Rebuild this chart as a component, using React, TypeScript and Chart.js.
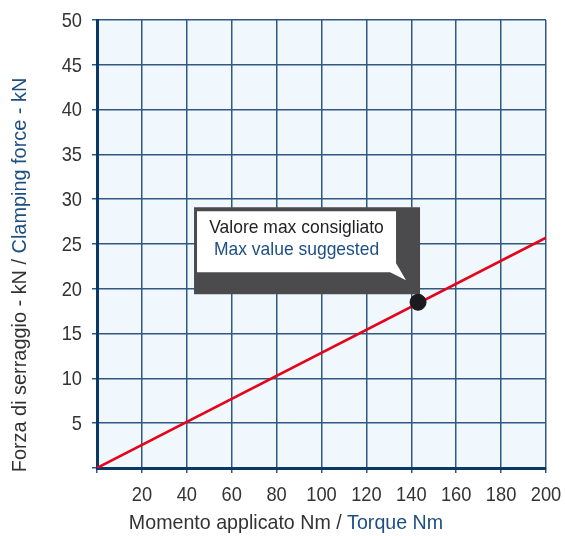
import React, { useEffect, useRef } from "react";
import { Chart, registerables } from "chart.js";

Chart.register(...registerables);

// ---- data ----
const torqueLine: number[] = [0, 200];
const forceLine: number[] = [0, 25.7];
const maxTorque: number[] = [143];
const maxForce: number[] = [18.5];
const xTicks: number[] = [0, 20, 40, 60, 80, 100, 120, 140, 160, 180, 200];
const yTicks: number[] = [0, 5, 10, 15, 20, 25, 30, 35, 40, 45, 50];
const calloutLines: string[] = ["Valore max consigliato", "Max value suggested"];
const xTitle: string[] = ["Momento applicato Nm / ", "Torque Nm"];
const yTitle: string[] = ["Forza di serraggio - kN / ", "Clamping force - kN"];

const FONT = '"Liberation Sans", Arial, sans-serif';
const GREY_TEXT = "#333333";
const BLUE_TEXT = "#1d4f82";
const GRID = "#2f5882";
const AXIS = "#0b3867";

// draw horizontally-condensed text
function narrowText(ctx: CanvasRenderingContext2D, text: string, x: number, y: number, sx: number, align: CanvasTextAlign) {
  ctx.save();
  ctx.translate(x, y);
  ctx.scale(sx, 1);
  ctx.textAlign = align;
  ctx.fillText(text, 0, 0);
  ctx.restore();
}

const bgPlugin = {
  id: "bg",
  beforeDraw(chart: any) {
    const { ctx, chartArea } = chart;
    ctx.save();
    ctx.fillStyle = "#f1f8fd";
    ctx.fillRect(chartArea.left, chartArea.top, chartArea.right - chartArea.left, chartArea.bottom - chartArea.top);
    ctx.restore();
  },
};

const calloutPlugin = {
  id: "callout",
  beforeDatasetsDraw(chart: any) {
    const { ctx } = chart;
    const xs = chart.scales.x;
    const ys = chart.scales.y;
    const px = xs.getPixelForValue(maxTorque[0]);
    const py = ys.getPixelForValue(maxForce[0]);
    ctx.save();
    const gx0 = px - 224;
    const gx1 = px + 2;
    const gy0 = py - 95;
    const gy1 = py - 8;
    ctx.fillStyle = "#4b4b4e";
    ctx.fillRect(gx0, gy0, gx1 - gx0, gy1 - gy0);
    const wx0 = gx0 + 3;
    const wx1 = px - 22;
    const wy0 = gy0 + 4;
    const wy1 = py - 30;
    ctx.fillStyle = "#ffffff";
    ctx.beginPath();
    ctx.moveTo(wx0, wy0);
    ctx.lineTo(wx1, wy0);
    ctx.lineTo(wx1, wy1 - 9);
    ctx.lineTo(px - 12, py - 22);
    ctx.lineTo(wx1 - 6, wy1);
    ctx.lineTo(wx0, wy1);
    ctx.closePath();
    ctx.fill();
    const cx = (wx0 + wx1) / 2;
    ctx.textBaseline = "middle";
    ctx.font = `19px ${FONT}`;
    ctx.fillStyle = "#222222";
    narrowText(ctx, calloutLines[0], cx, wy0 + 17, 0.92, "center");
    ctx.fillStyle = BLUE_TEXT;
    narrowText(ctx, calloutLines[1], cx, wy0 + 39, 0.92, "center");
    ctx.restore();
  },
};

function drawTwoTone(ctx: CanvasRenderingContext2D, parts: string[], cx: number, cy: number, sx: number) {
  ctx.save();
  ctx.translate(cx, cy);
  ctx.scale(sx, 1);
  const w0 = ctx.measureText(parts[0]).width;
  const w1 = ctx.measureText(parts[1]).width;
  const start = -(w0 + w1) / 2;
  ctx.textAlign = "left";
  ctx.textBaseline = "middle";
  ctx.fillStyle = GREY_TEXT;
  ctx.fillText(parts[0], start, 0);
  ctx.fillStyle = BLUE_TEXT;
  ctx.fillText(parts[1], start + w0, 0);
  ctx.restore();
}

const labelsPlugin = {
  id: "labels",
  afterDraw(chart: any) {
    const { ctx } = chart;
    const xs = chart.scales.x;
    const ys = chart.scales.y;
    const area = chart.chartArea;
    ctx.save();
    ctx.font = `21px ${FONT}`;
    ctx.fillStyle = GREY_TEXT;
    ctx.textBaseline = "middle";
    xTicks.forEach((v) => {
      if (v === 0) return;
      narrowText(ctx, String(v), xs.getPixelForValue(v), area.bottom + 27, 0.87, "center");
    });
    yTicks.forEach((v) => {
      if (v === 0) return;
      narrowText(ctx, String(v), area.left - 15, ys.getPixelForValue(v) + 1, 0.87, "right");
    });
    // axis titles
    drawTwoTone(ctx, xTitle, 286, area.bottom + 55, 0.935);
    ctx.translate(20, 275);
    ctx.rotate(-Math.PI / 2);
    drawTwoTone(ctx, yTitle, 0, 0, 0.947);
    ctx.restore();
  },
};

export default function App() {
  const ref = useRef<HTMLCanvasElement | null>(null);
  useEffect(() => {
    if (!ref.current) return;
    const chart = new Chart(ref.current, {
      type: "scatter",
      data: {
        datasets: [
          {
            type: "scatter",
            data: maxTorque.map((x, i) => ({ x, y: maxForce[i] })),
            backgroundColor: "#1b1b1d",
            borderColor: "#1b1b1d",
            pointRadius: 8,
            order: 0,
          },
          {
            type: "line",
            data: torqueLine.map((x, i) => ({ x, y: forceLine[i] })),
            borderColor: "#e3051b",
            borderWidth: 2.5,
            pointRadius: 0,
            showLine: true,
            order: 1,
          } as any,
        ],
      },
      options: {
        animation: false,
        responsive: true,
        maintainAspectRatio: false,
        layout: { padding: { top: 20, right: 19, left: 0, bottom: 0 } },
        plugins: { legend: { display: false }, tooltip: { enabled: false } },
        scales: {
          x: {
            type: "linear",
            min: 0,
            max: 200,
            afterFit(scale: any) {
              scale.height = 68;
              scale.paddingLeft = 0;
              scale.paddingRight = 0;
            },
            afterBuildTicks(scale: any) {
              scale.ticks = xTicks.map((v) => ({ value: v }));
            },
            ticks: { color: "rgba(0,0,0,0)", font: { size: 12 }, maxRotation: 0, padding: 0 },
            grid: { color: GRID, lineWidth: 1.5, tickLength: 5, tickColor: GRID },
            border: { display: true, color: AXIS, width: 3 },
          },
          y: {
            type: "linear",
            min: 0,
            max: 50,
            afterFit(scale: any) {
              scale.width = 97;
              scale.paddingTop = 0;
              scale.paddingBottom = 0;
            },
            afterBuildTicks(scale: any) {
              scale.ticks = yTicks.map((v) => ({ value: v }));
            },
            ticks: { color: "rgba(0,0,0,0)", font: { size: 12 }, padding: 0 },
            grid: { color: GRID, lineWidth: 1.5, tickLength: 5, tickColor: GRID },
            border: { display: true, color: AXIS, width: 3 },
          },
        },
      },
      plugins: [bgPlugin, calloutPlugin, labelsPlugin],
    });
    return () => chart.destroy();
  }, []);
  return (
    <div style={{ position: "absolute", left: 0, top: 0, width: 565, height: 536, background: "#ffffff" }}>
      <canvas ref={ref} />
    </div>
  );
}
